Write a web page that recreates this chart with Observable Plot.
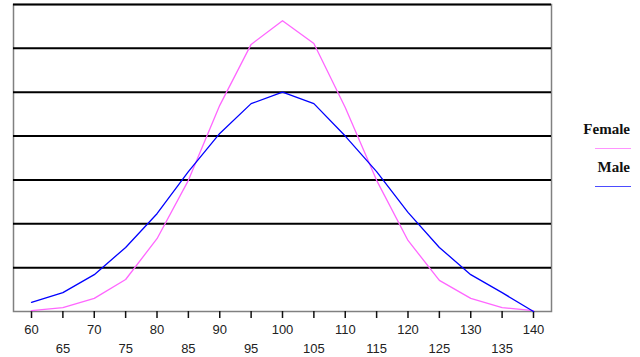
<!DOCTYPE html>
<html>
<head>
<meta charset="utf-8">
<script src="https://cdn.jsdelivr.net/npm/d3@7"></script>
<script src="https://cdn.jsdelivr.net/npm/@observablehq/plot@0.6"></script>
<style>
  html, body { margin: 0; padding: 0; background: #fff; }
  #wrap { position: relative; width: 640px; height: 357px; }
  .legend { position: absolute; right: 10px; font-family: "Liberation Serif", "Times New Roman", serif; font-size: 15px; font-weight: bold; color: #111; text-align: right; line-height: 15px; }
  .swatch { position: absolute; width: 36px; height: 0; border-top: 1.5px solid; right: 9px; }
</style>
</head>
<body>
<div id="wrap"></div>
<script>
const ages = [60, 65, 70, 75, 80, 85, 90, 95, 100, 105, 110, 115, 120, 125, 130, 135, 140];
const female = [0.02, 0.09, 0.30, 0.73, 1.66, 2.99, 4.70, 6.09, 6.63, 6.11, 4.65, 2.99, 1.62, 0.71, 0.30, 0.09, 0.02];
const male = [0.21, 0.43, 0.84, 1.46, 2.23, 3.19, 4.06, 4.74, 5.00, 4.74, 4.00, 3.19, 2.26, 1.46, 0.84, 0.43, 0.00];
const gridValues = [1, 2, 3, 4, 5, 6, 7];
const ticksUpper = [60, 70, 80, 90, 100, 110, 120, 130, 140];
const ticksLower = [65, 75, 85, 95, 105, 115, 125, 135];
const seriesNames = ["Female", "Male"];
const seriesColors = ["#ff66ff", "#0000ff"];

const rows = [];
ages.forEach((a, i) => {
  rows.push({age: a, value: female[i], series: seriesNames[0]});
  rows.push({age: a, value: male[i], series: seriesNames[1]});
});

const chart = Plot.plot({
  width: 640,
  height: 357,
  marginLeft: 13,
  marginRight: 89,
  marginTop: 4,
  marginBottom: 46,
  style: {fontFamily: "'Liberation Sans', Arial, sans-serif", fontSize: "13px", color: "#222", background: "#fff"},
  x: {domain: [57.13, 142.87], label: null},
  y: {domain: [0, 7], axis: null},
  color: {domain: seriesNames, range: seriesColors},
  marks: [
    Plot.frame({stroke: "#808080", strokeWidth: 1.5}),
    Plot.ruleY(gridValues, {stroke: "#000", strokeWidth: 2}),
    Plot.axisX({ticks: ticksUpper, tickSize: 7, tickPadding: 6, stroke: "#111", strokeWidth: 1.5, tickFormat: d => String(d), label: null}),
    Plot.axisX({ticks: ticksLower, tickSize: 7, tickPadding: 25, stroke: "#111", strokeWidth: 1.5, tickFormat: d => String(d), label: null}),
    Plot.line(rows, {x: "age", y: "value", z: "series", stroke: "series", strokeWidth: 1.3})
  ]
});

const wrap = document.getElementById("wrap");
wrap.appendChild(chart);

const legendTops = [122, 160];
const swatchTops = [148, 186];
seriesNames.forEach((name, i) => {
  const t = document.createElement("div");
  t.className = "legend";
  t.style.top = legendTops[i] + "px";
  t.textContent = name;
  wrap.appendChild(t);
  const s = document.createElement("div");
  s.className = "swatch";
  s.style.top = swatchTops[i] + "px";
  s.style.borderTopColor = seriesColors[i];
  s.style.opacity = 0.7;
  wrap.appendChild(s);
});
</script>
</body>
</html>
